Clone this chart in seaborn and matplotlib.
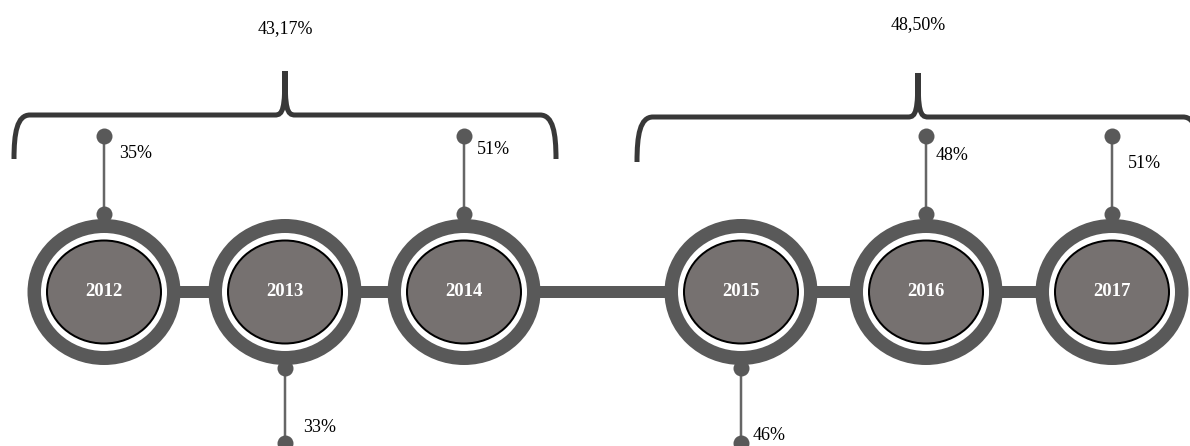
import matplotlib
matplotlib.use("Agg")
import matplotlib.pyplot as plt
from matplotlib.patches import Ellipse, PathPatch
from matplotlib.path import Path
import seaborn as sns
import pandas as pd

# ---------------- data ----------------
years = ["2012", "2013", "2014", "2015", "2016", "2017"]
shares = [35, 33, 51, 46, 48, 51]
share_labels = ["35%", "33%", "51%", "46%", "48%", "51%"]
directions = ["up", "down", "up", "down", "up", "up"]
group_labels = ["43,17%", "48,50%"]
group_members = [["2012", "2013", "2014"], ["2015", "2016", "2017"]]

# ---------------- layout (pixels) ----------------
W, H = 1190, 446
x_pos = [104, 285, 464, 741, 926, 1112]
y_axis = 292
label_dy = [-138, 136, -142, 144, -137, -129]   # label offsets from axis
label_dx = [15, 18, 13, 12, 10, 16]
bracket_spans = [(14, 556, 285, 115, 159), (637, 1199, 918, 117, 162)]
group_label_y = [29, 25]

RING = "#595959"
FILL = "#767170"
STEM = "#666666"
BRACE = "#383838"
PX = 72 / 100  # points per pixel

sns.set_theme(style="white")
plt.rcParams["font.family"] = ["Liberation Serif", "DejaVu Serif"]

fig = plt.figure(figsize=(W / 100, H / 100), dpi=100)
ax = fig.add_axes([0, 0, 1, 1])
ax.set_xlim(0, W)
ax.set_ylim(H, 0)
ax.axis("off")

pos = dict(zip(years, x_pos))

# connector line
conn = pd.DataFrame({"x": [x_pos[0], x_pos[-1]], "y": [y_axis, y_axis]})
sns.lineplot(data=conn, x="x", y="y", ax=ax, color=RING, lw=12 * PX,
             solid_capstyle="butt", zorder=1, estimator=None, sort=False)

# stems
rows = []
dots = []
for yr, d, x in zip(years, directions, x_pos):
    if d == "up":
        y0, y1 = y_axis - 78, y_axis - 156
    else:
        y0, y1 = y_axis + 76, y_axis + 151
    rows += [{"yr": yr, "x": x, "y": y0}, {"yr": yr, "x": x, "y": y1}]
    dots += [{"x": x, "y": y0}, {"x": x, "y": y1}]
stems = pd.DataFrame(rows)
sns.lineplot(data=stems, x="x", y="y", units="yr", estimator=None, sort=False,
             ax=ax, color=STEM, lw=2.5 * PX, zorder=2, legend=False)
sns.scatterplot(data=pd.DataFrame(dots), x="x", y="y", ax=ax, color=RING,
                s=(16 * PX) ** 2, linewidth=0, zorder=3, legend=False)

# rings
for yr, x in zip(years, x_pos):
    ax.add_patch(Ellipse((x, y_axis), 153, 146, facecolor=RING, edgecolor="none", zorder=4))
    ax.add_patch(Ellipse((x, y_axis), 126, 118, facecolor="white", edgecolor="none", zorder=5))
    ax.add_patch(Ellipse((x, y_axis), 114, 103, facecolor=FILL, edgecolor="black",
                         lw=2 * PX, zorder=6))
    ax.text(x, y_axis, yr, ha="center", va="center", color="white",
            fontsize=13.5, fontweight="bold", zorder=7)

# share labels
for lab, x, dx, dy in zip(share_labels, x_pos, label_dx, label_dy):
    ax.text(x + dx, y_axis + dy, lab, ha="left", va="center", fontsize=13, color="black")

# brackets
for (x0, x1, xp, yh, yb), glab, gy in zip(bracket_spans, group_labels, group_label_y):
    verts = [(x0, yb), (x0, yh + 18), (x0 + 3, yh), (x0 + 16, yh),
             (xp - 10, yh),
             (xp - 2, yh), (xp, yh - 6), (xp, yh - 44),
             (xp, yh - 6), (xp + 2, yh), (xp + 10, yh),
             (x1 - 16, yh),
             (x1 - 3, yh), (x1, yh + 18), (x1, yb)]
    codes = [Path.MOVETO, Path.CURVE4, Path.CURVE4, Path.CURVE4,
             Path.LINETO,
             Path.CURVE4, Path.CURVE4, Path.CURVE4,
             Path.CURVE4, Path.CURVE4, Path.CURVE4,
             Path.LINETO,
             Path.CURVE4, Path.CURVE4, Path.CURVE4]
    ax.add_patch(PathPatch(Path(verts, codes), facecolor="none", edgecolor=BRACE,
                           lw=5 * PX, capstyle="butt", joinstyle="miter", zorder=2))
    ax.text(xp, gy, glab, ha="center", va="center", fontsize=13, color="black")

fig.savefig("out.png", dpi=100)
